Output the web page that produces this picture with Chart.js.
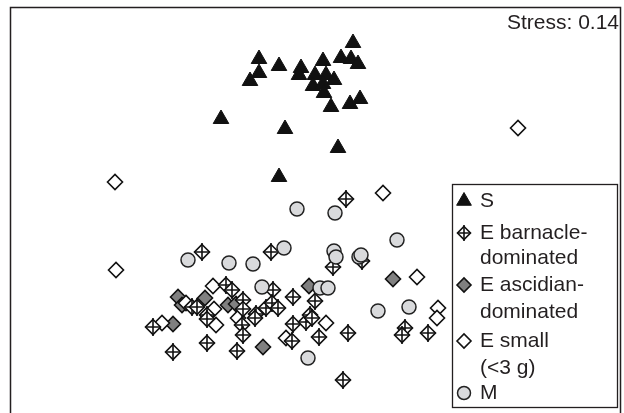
<!DOCTYPE html>
<html>
<head>
<meta charset="utf-8">
<script src="https://cdn.jsdelivr.net/npm/chart.js@4.4.1/dist/chart.umd.min.js"></script>
<style>
    html, body { margin: 0; padding: 0; background: #fff; overflow: hidden; }
    #wrap { width: 624px; height: 413px; position: relative; }
    canvas { display: block; }
</style>
</head>
<body>
<div id="wrap"><canvas id="nmds"></canvas></div>
<script>
// ordination scores (x to the right, y downwards)
const puntosS = [[353,43],[259,59],[279,66],[301,68],[299,75],[323,61],[341,58],[351,59],[358,64],[259,73],
    [250,81],[315,75],[326,75],[334,80],[313,86],[323,84],[324,93],[331,107],[350,104],[360,99],
    [221,119],[285,129],[338,148],[279,177]];
const puntosBarnacle = [[202,252],[271,252],[346,199],[333,267],[362,261],[226,285],[232,290],[273,290],[293,297],
    [192,307],[197,307],[243,300],[243,309],[207,315],[207,319],[242,325],[256,314],[255,318],[266,308],
    [272,303],[278,308],[153,327],[243,335],[207,343],[173,352],[237,351],[292,341],[293,324],[315,301],
    [306,322],[310,315],[312,318],[319,337],[348,333],[405,328],[402,335],[428,333],[343,380]];
const puntosAscidian = [[178,297],[182,305],[205,298],[228,305],[236,304],[173,324],[263,347],[309,286],[393,279]];
const puntosSmall = [[115,182],[116,270],[518,128],[383,193],[417,277],[213,286],[186,303],[214,309],[216,325],
    [162,323],[238,318],[286,338],[326,323],[438,308],[437,318]];
const puntosM = [[297,209],[335,213],[397,240],[188,260],[229,263],[253,264],[284,248],[334,251],[336,257],
    [359,257],[361,255],[262,287],[320,288],[328,288],[378,311],[409,307],[308,358]];

const etiquetas = [['S'], ['E barnacle-', 'dominated'], ['E ascidian-', 'dominated'], ['E small', '(<3 g)'], ['M']];
const textoStress = 'Stress: 0.14';

const TINTA = '#231f20';
const FUENTE = '21px "Liberation Sans", Arial, sans-serif';

// diamond with a cross through it, used for the barnacle group
function marcaBarnacle(r) {
    const c = document.createElement('canvas');
    const lado = Math.round(2 * r + 5);
    c.width = lado; c.height = lado;
    const g = c.getContext('2d');
    const m = lado / 2;
    g.strokeStyle = '#111';
    g.lineWidth = 1.6;
    g.fillStyle = '#fff';
    g.beginPath();
    g.moveTo(m, m - r); g.lineTo(m + r, m); g.lineTo(m, m + r); g.lineTo(m - r, m);
    g.closePath();
    g.fill(); g.stroke();
    g.beginPath();
    g.moveTo(m, m - r - 1.5); g.lineTo(m, m + r + 1.5);
    g.moveTo(m - r, m); g.lineTo(m + r, m);
    g.stroke();
    return c;
}

const estilos = [
    {pointStyle: 'triangle', radius: 9, backgroundColor: '#111', borderColor: '#111', borderWidth: 1},
    {pointStyle: marcaBarnacle(7.5), radius: 7.5, backgroundColor: '#fff', borderColor: '#111', borderWidth: 1.6},
    {pointStyle: 'rectRot', radius: 7.5, backgroundColor: '#808080', borderColor: '#111', borderWidth: 1.6},
    {pointStyle: 'rectRot', radius: 7.5, backgroundColor: '#fff', borderColor: '#111', borderWidth: 1.6},
    {pointStyle: 'circle', radius: 7, backgroundColor: '#d9dadc', borderColor: '#222', borderWidth: 1.5}
];
const imgLeyenda = marcaBarnacle(6.5);

function serie(puntos, estilo, orden) {
    return {
        data: puntos.map(p => ({x: p[0], y: p[1]})),
        pointStyle: estilo.pointStyle,
        pointRadius: estilo.radius,
        pointBackgroundColor: estilo.backgroundColor,
        pointBorderColor: estilo.borderColor,
        pointBorderWidth: estilo.borderWidth,
        order: orden
    };
}

// frame, stress label and the boxed legend
const decorado = {
    id: 'decorado',
    afterDraw(chart) {
        const ctx = chart.ctx;
        const a = chart.chartArea;
        ctx.save();
        ctx.strokeStyle = TINTA;
        ctx.lineWidth = 1.5;
        ctx.strokeRect(a.left + 0.5, a.top + 0.5, a.right - a.left - 1, 430);

        ctx.fillStyle = TINTA;
        ctx.font = FUENTE;
        ctx.textAlign = 'right';
        ctx.textBaseline = 'middle';
        ctx.fillText(textoStress, a.right - 2, 23);

        ctx.lineWidth = 1.3;
        ctx.strokeRect(452.5, 184.5, 165, 223);

        const filas = [[200], [232, 257], [284, 311], [340, 367], [392]];
        ctx.textAlign = 'left';
        for (let i = 0; i < etiquetas.length; i++) {
            const e = estilos[i];
            const ym = filas[i][0];
            ctx.fillStyle = e.backgroundColor;
            ctx.strokeStyle = e.borderColor;
            ctx.lineWidth = e.borderWidth;
            const estilo = i === 1 ? imgLeyenda : e.pointStyle;
            Chart.helpers.drawPoint(ctx, {pointStyle: estilo, radius: e.radius - 0.5, borderWidth: e.borderWidth}, 464, ym + 1);
            ctx.fillStyle = TINTA;
            for (let j = 0; j < etiquetas[i].length; j++) {
                ctx.fillText(etiquetas[i][j], 480, filas[i][j] + 1);
            }
        }
        ctx.restore();
    }
};

new Chart(document.getElementById('nmds'), {
    type: 'scatter',
    data: {
        datasets: [
            serie(puntosS, estilos[0], 4),
            serie(puntosAscidian, estilos[2], 3),
            serie(puntosSmall, estilos[3], 2),
            serie(puntosBarnacle, estilos[1], 1),
            serie(puntosM, estilos[4], 0)
        ]
    },
    options: {
        responsive: true,
        maintainAspectRatio: false,
        animation: false,
        layout: {autoPadding: false, padding: {left: 10, top: 7, right: 3, bottom: 0}},
        plugins: {legend: {display: false}, tooltip: {enabled: false}},
        scales: {
            x: {type: 'linear', display: false, min: 10, max: 621},
            y: {type: 'linear', display: false, min: 7, max: 413, reverse: true}
        }
    },
    plugins: [decorado]
});
</script>
</body>
</html>
